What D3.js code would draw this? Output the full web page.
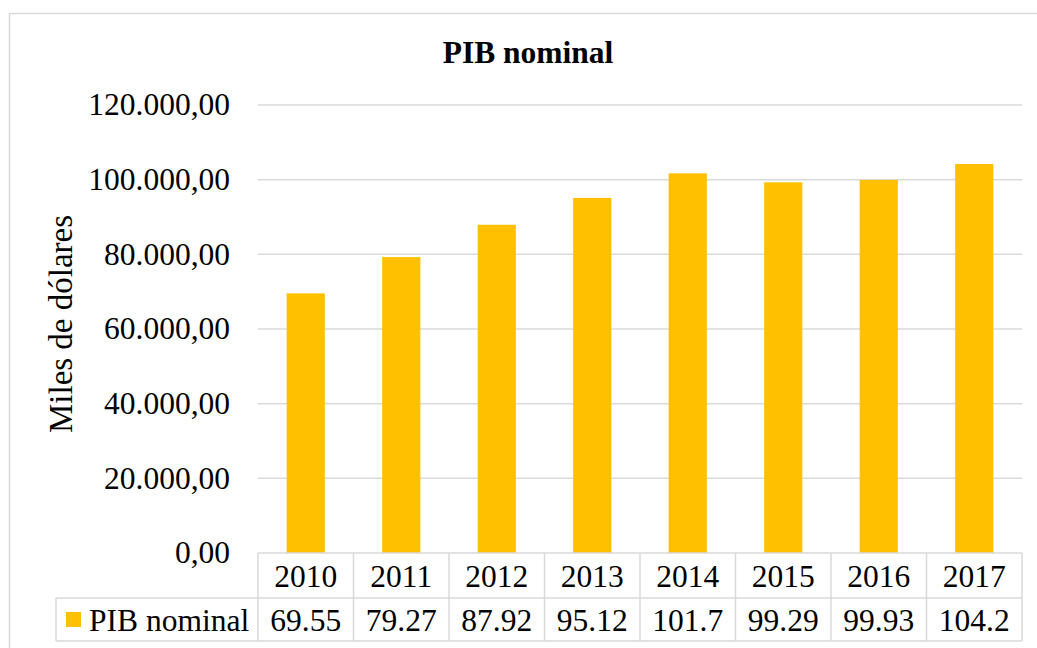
<!DOCTYPE html>
<html>
<head>
<meta charset="utf-8">
<script src="https://cdn.jsdelivr.net/npm/d3@7"></script>
<style>
  body { margin: 0; background: #fff; }
  svg { display: block; font-family: "Liberation Serif", "Times New Roman", serif; }
</style>
</head>
<body>
<svg id="chart"></svg>
<script>
const years = ["2010", "2011", "2012", "2013", "2014", "2015", "2016", "2017"];
const pibValues = [69550, 79270, 87920, 95120, 101700, 99290, 99930, 104200];
const tableLabels = ["69.55", "79.27", "87.92", "95.12", "101.7", "99.29", "99.93", "104.2"];
const yTicks = [0, 20000, 40000, 60000, 80000, 100000, 120000];
const seriesName = "PIB nominal";

const w = 1037, h = 648;
const plotLeft = 258, plotRight = 1022, plotTop = 105, plotBottom = 553;
const rowH1 = 45, rowH2 = 43;
const fs = 31.5;
const gridColor = "#d9d9d9";
const barColor = "#ffc000";

const svg = d3.select("#chart").attr("width", w).attr("height", h);

// outer chart border
svg.append("rect")
  .attr("x", 9.5).attr("y", 13.5)
  .attr("width", 1040).attr("height", 650)
  .attr("fill", "none").attr("stroke", gridColor).attr("stroke-width", 1.5);

const x = d3.scaleBand().domain(years).range([plotLeft, plotRight]);
const y = d3.scaleLinear().domain([0, 120000]).range([plotBottom, plotTop]);

// format like 120.000,00
const fmt = d => d3.format(",.2f")(d).replace(/,/g, "#").replace(".", ",").replace(/#/g, ".");

// gridlines
svg.append("g").selectAll("line")
  .data(yTicks.filter(d => d > 0))
  .enter().append("line")
  .attr("x1", plotLeft).attr("x2", plotRight)
  .attr("y1", d => y(d)).attr("y2", d => y(d))
  .attr("stroke", gridColor).attr("stroke-width", 1.5);

// y tick labels
svg.append("g").selectAll("text")
  .data(yTicks)
  .enter().append("text")
  .attr("x", 230).attr("y", d => y(d))
  .attr("dy", "0.33em")
  .attr("text-anchor", "end")
  .attr("font-size", fs)
  .text(fmt);

// bars
const barW = x.bandwidth() * 0.4;
svg.append("g").selectAll("rect")
  .data(pibValues)
  .enter().append("rect")
  .attr("x", (d, i) => x(years[i]) + (x.bandwidth() - barW) / 2)
  .attr("y", d => y(d))
  .attr("width", barW)
  .attr("height", d => plotBottom - y(d))
  .attr("fill", barColor);

// title
svg.append("text")
  .attr("x", 528).attr("y", 63)
  .attr("text-anchor", "middle")
  .attr("font-size", fs).attr("font-weight", "bold")
  .text(seriesName);

// y axis label
svg.append("text")
  .attr("transform", "translate(72," + 324 + ") rotate(-90)")
  .attr("text-anchor", "middle")
  .attr("font-size", 33)
  .text("Miles de dólares");

// data table
const table = svg.append("g");
const row2 = plotBottom + rowH1, tableBottom = row2 + rowH2;
const lines = [
  [plotLeft, plotBottom, plotRight, plotBottom],
  [56, row2, plotRight, row2],
  [56, tableBottom, plotRight, tableBottom],
  [56, row2, 56, tableBottom]
];
years.forEach(yr => lines.push([x(yr), plotBottom, x(yr), tableBottom]));
lines.push([plotRight, plotBottom, plotRight, tableBottom]);
table.selectAll("line")
  .data(lines)
  .enter().append("line")
  .attr("x1", d => d[0]).attr("y1", d => d[1])
  .attr("x2", d => d[2]).attr("y2", d => d[3])
  .attr("stroke", gridColor).attr("stroke-width", 1.5);

table.selectAll("text.yr")
  .data(years)
  .enter().append("text")
  .attr("class", "yr")
  .attr("x", d => x(d) + x.bandwidth() / 2)
  .attr("y", plotBottom + rowH1 / 2).attr("dy", "0.35em")
  .attr("text-anchor", "middle").attr("font-size", fs)
  .text(d => d);

table.selectAll("text.val")
  .data(tableLabels)
  .enter().append("text")
  .attr("class", "val")
  .attr("x", (d, i) => x(years[i]) + x.bandwidth() / 2)
  .attr("y", row2 + rowH2 / 2).attr("dy", "0.35em")
  .attr("text-anchor", "middle").attr("font-size", fs)
  .text(d => d);

// legend key + series name
table.append("rect")
  .attr("x", 66).attr("y", 612)
  .attr("width", 15).attr("height", 15)
  .attr("fill", barColor);
table.append("text")
  .attr("x", 89).attr("y", row2 + rowH2 / 2).attr("dy", "0.35em")
  .attr("font-size", fs)
  .text(seriesName);
</script>
</body>
</html>
